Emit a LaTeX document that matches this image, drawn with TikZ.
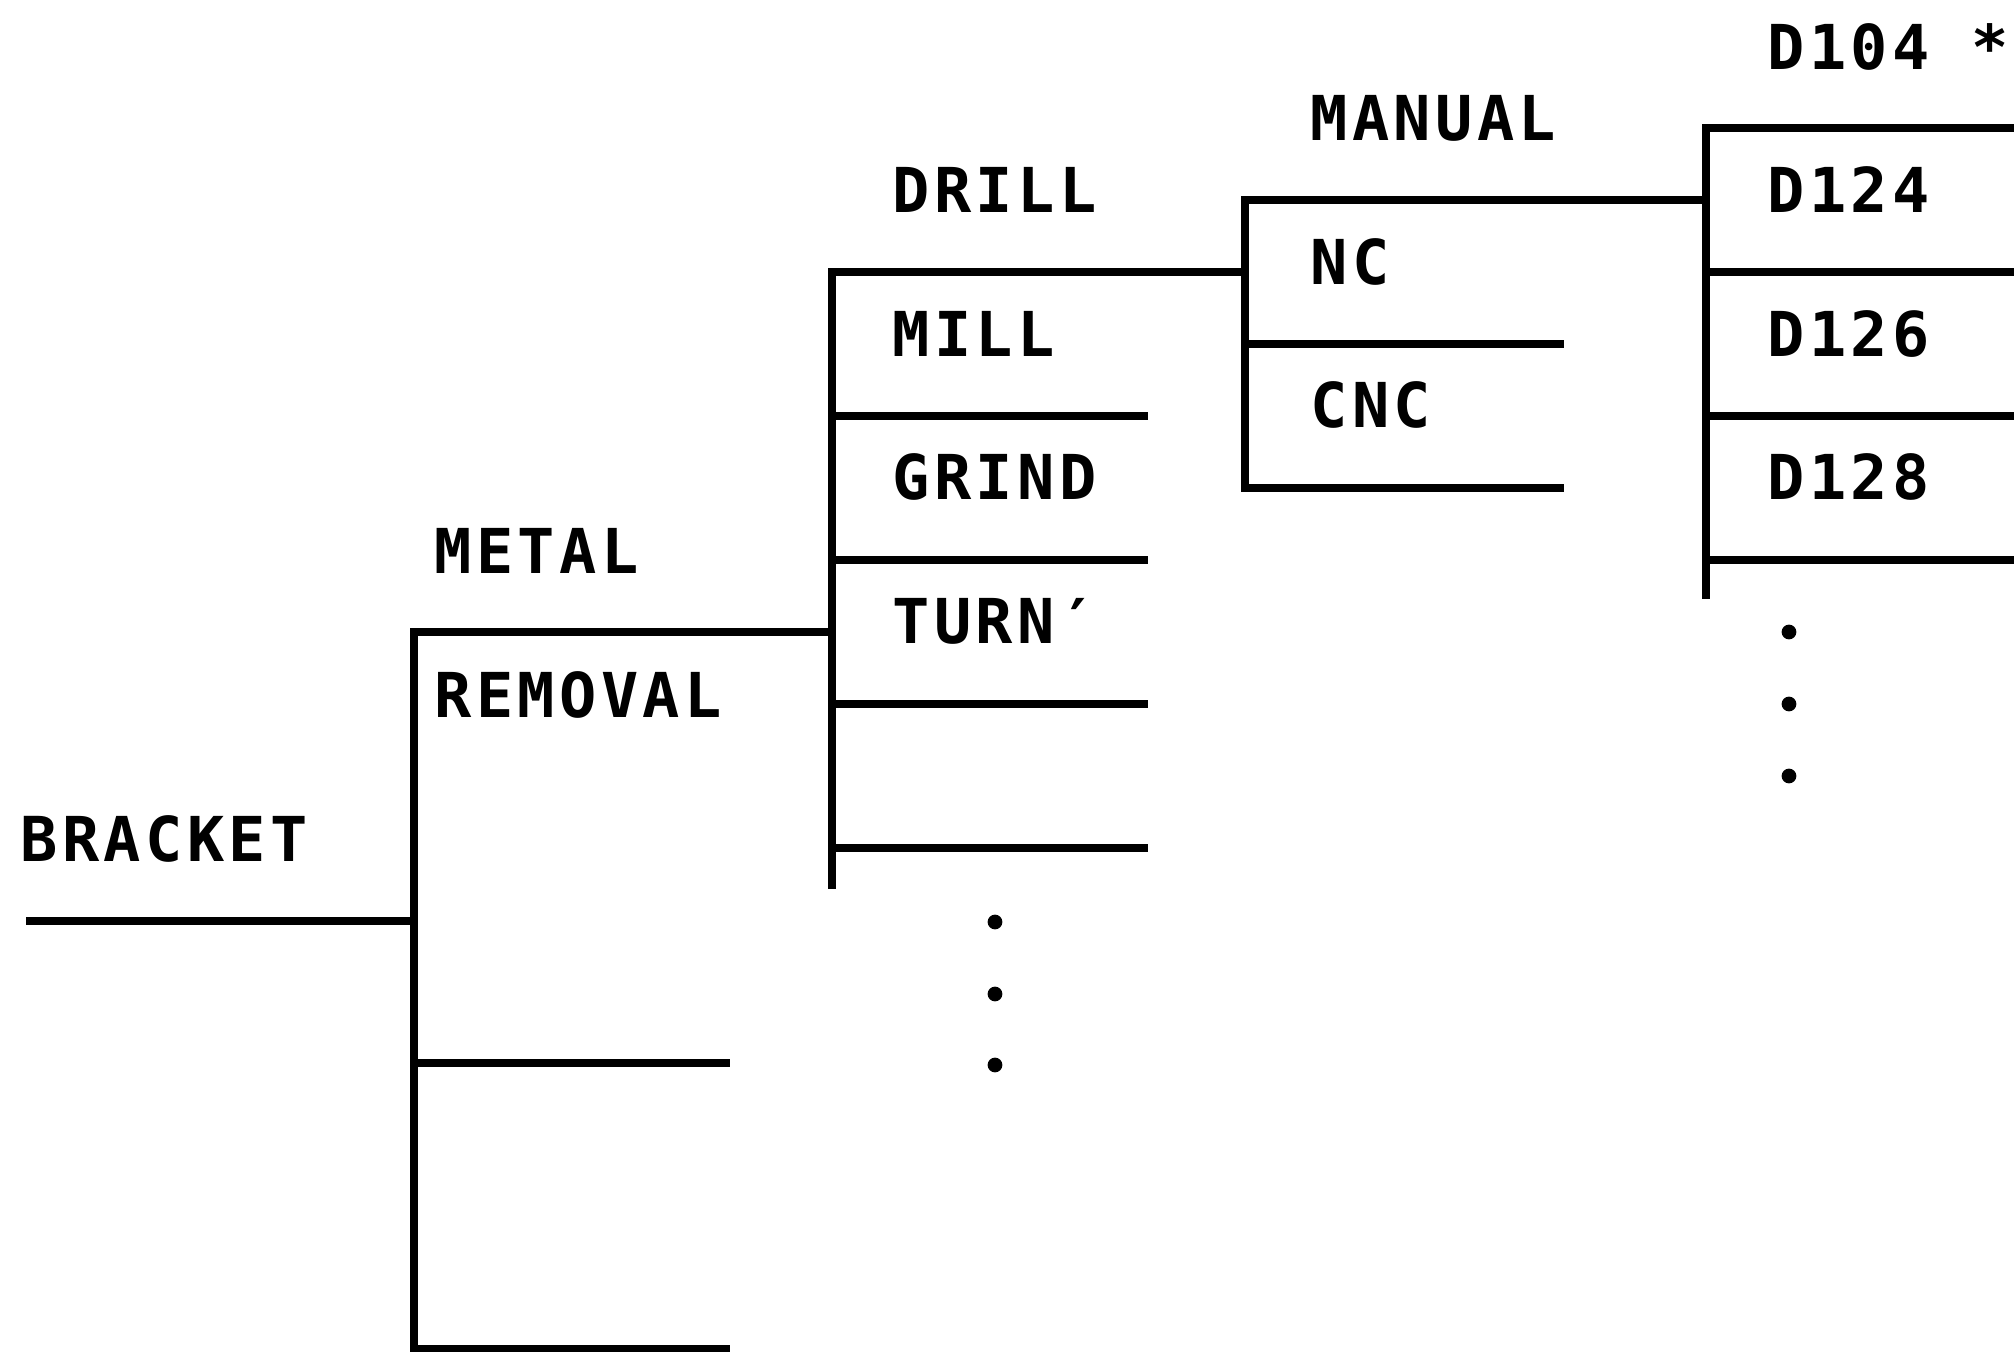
\documentclass[tikz,border=0pt]{standalone}
\usepackage{fontspec}
\newfontfamily\plotfont[LetterSpace=7]{DejaVu Sans Mono Bold}
\begin{document}
\begin{tikzpicture}[x=0.01cm,y=-0.01cm,
  tree/.style={line width=2.2pt, line join=miter},
  lbl/.style={anchor=base west, inner sep=0pt, font=\plotfont\fontsize{17.6}{20}\selectfont},
  dotm/.style={circle, fill, inner sep=0pt, minimum size=4.2pt}]
\useasboundingbox (0,0) rectangle (2014,1352);
% level 0
\coordinate (b0) at (26,921);
\coordinate (v0t) at (414,632);
\coordinate (v0m) at (414,921);
\coordinate (v0a) at (414,1063);
\coordinate (v0end) at (414,1349);
\coordinate (e0t) at (832,632);
\coordinate (e0a) at (730,1063);
\coordinate (e0end) at (730,1349);
% level 1
\coordinate (v1t) at (832,272);
\coordinate (v1end) at (832,889);
\coordinate (e1t) at (1245,272);
\foreach \y/\n in {416/a,560/b,704/c,848/d} {
  \coordinate (v1\n) at (832,\y);
  \coordinate (e1\n) at (1148,\y);
}
% level 2
\coordinate (v2t) at (1245,200);
\coordinate (e2t) at (1706,200);
\coordinate (v2a) at (1245,344);
\coordinate (e2a) at (1564,344);
\coordinate (v2end) at (1245,488);
\coordinate (e2end) at (1564,488);
% level 3
\coordinate (v3t) at (1706,128);
\coordinate (v3end) at (1706,599);
\coordinate (e3t) at (2014,128);
\foreach \y/\n in {272/a,416/b,560/c} {
  \coordinate (v3\n) at (1706,\y);
  \coordinate (e3\n) at (2014,\y);
}

% connectors
\draw[tree] (b0) -- (v0m);
\draw[tree] (e0t) -- (v0t) -- (v0end) -- (e0end);
\draw[tree] (v0a) -- (e0a);
\draw[tree] (e1t) -- (v1t) -- (v1end);
\foreach \n in {a,b,c,d} \draw[tree] (v1\n) -- (e1\n);
\draw[tree] (e2t) -- (v2t) -- (v2end) -- (e2end);
\draw[tree] (v2a) -- (e2a);
\draw[tree] (e3t) -- (v3t) -- (v3end);
\foreach \n in {a,b,c} \draw[tree] (v3\n) -- (e3\n);

% labels
\node[lbl] (bracket) at (20,862) {BRACKET};
\node[lbl] (metal) at (434,574) {METAL};
\node[lbl] (removal) at (434,718) {REMOVAL};
\node[lbl] (drill) at (892,213) {DRILL};
\node[lbl] (mill) at (892,357) {MILL};
\node[lbl] (grind) at (892,500) {GRIND};
\node[lbl] (turn) at (892,644) {TURN′};
\node[lbl] (manual) at (1310,141) {MANUAL};
\node[lbl] (nc) at (1310,285) {NC};
\node[lbl] (cnc) at (1310,428) {CNC};
\node[lbl] (d104) at (1767,70) {D104 *};
\node[lbl] (d124) at (1767,213) {D124};
\node[lbl] (d126) at (1767,357) {D126};
\node[lbl] (d128) at (1767,500) {D128};

% ellipsis dots
\foreach \y/\n in {922/1,994/2,1065/3} \node[dotm] (da\n) at (995,\y) {};
\foreach \y/\n in {632/1,704/2,776/3} \node[dotm] (db\n) at (1789,\y) {};
\end{tikzpicture}
\end{document}
